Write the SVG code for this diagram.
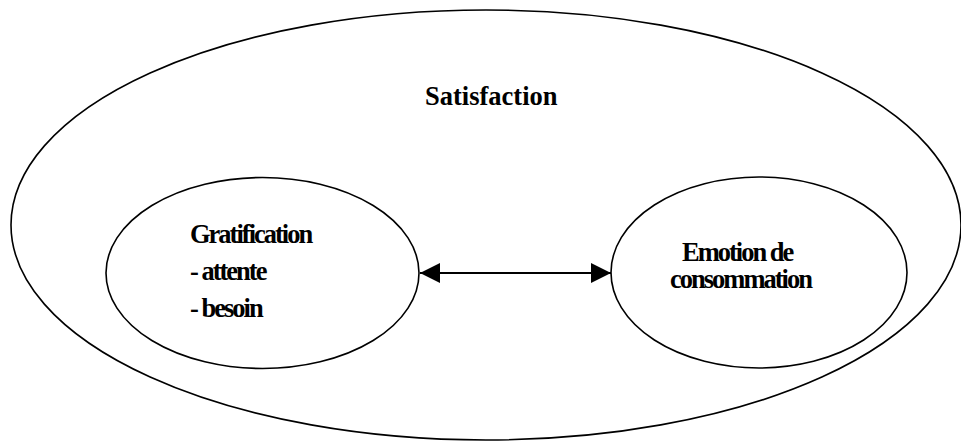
<svg xmlns="http://www.w3.org/2000/svg" width="961" height="441" viewBox="0 0 961 441">
<style>
.shape{fill:none;stroke:#000;stroke-width:1.6}
text{font-family:'Liberation Serif','Times New Roman','DejaVu Serif',serif;font-weight:bold;font-size:26.5px;fill:#000}
.c{letter-spacing:-2px}
.conn{stroke:#000;stroke-width:2;fill:none}
</style>
<defs>
<marker id="ah" viewBox="0 0 20 20" refX="20" refY="10" markerWidth="20" markerHeight="20" markerUnits="userSpaceOnUse" orient="auto-start-reverse">
<path d="M0,0 L20,10 L0,20 Z" fill="#000"/>
</marker>
</defs>
<rect width="961" height="441" fill="#fff"/>
<g id="satisfaction">
<ellipse class="shape" cx="486" cy="225" rx="475" ry="215"/>
<text font-family="Liberation Serif, serif" x="425" y="105">Satisfaction</text>
</g>
<g id="gratification">
<ellipse class="shape" cx="262.5" cy="273" rx="156.5" ry="95.5"/>
<text class="c" font-family="Liberation Serif, serif" x="190" y="243">Gratification</text>
<text class="c" font-family="Liberation Serif, serif" x="190" y="280">- attente</text>
<text class="c" font-family="Liberation Serif, serif" x="190" y="317">- besoin</text>
</g>
<g id="emotion">
<ellipse class="shape" cx="759" cy="272.5" rx="148" ry="95.5"/>
<text class="c" font-family="Liberation Serif, serif" x="682" y="261">Emotion de</text>
<text class="c" font-family="Liberation Serif, serif" x="670" y="288">consommation</text>
</g>
<g id="connectors">
<line class="conn" x1="420" y1="273" x2="611" y2="273" marker-start="url(#ah)" marker-end="url(#ah)"/>
</g>
</svg>
